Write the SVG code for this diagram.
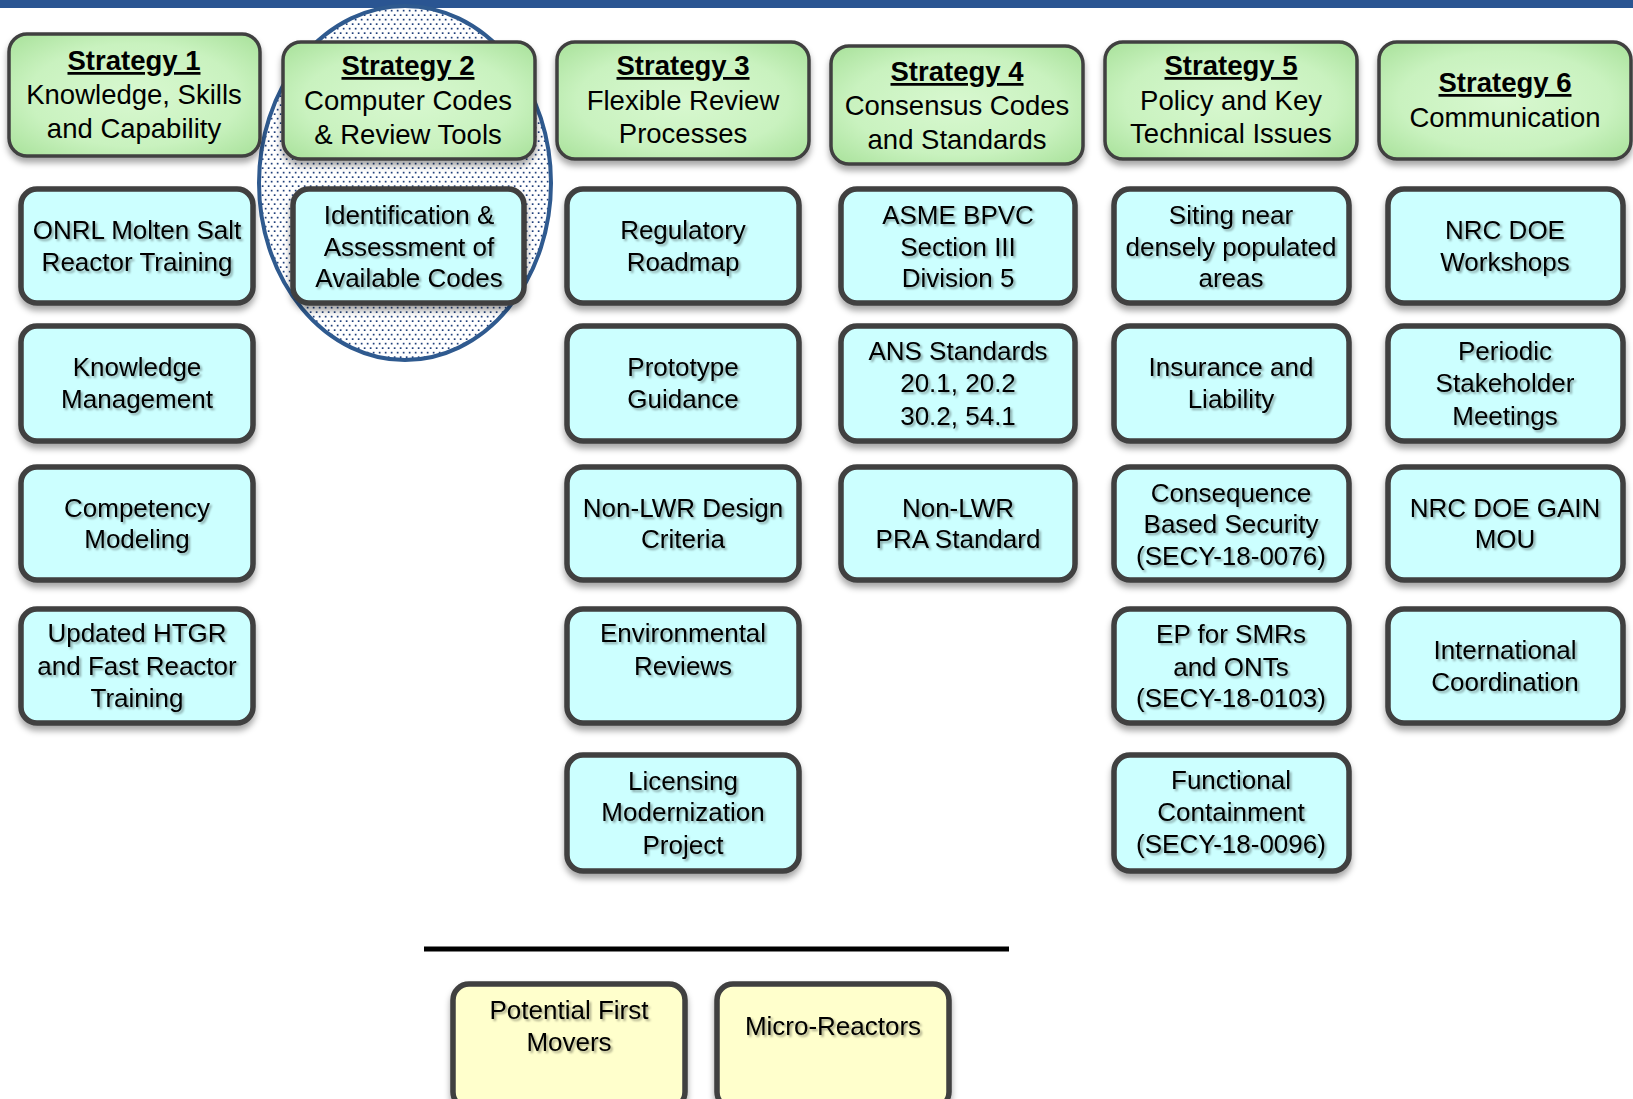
<svg xmlns="http://www.w3.org/2000/svg" width="1633" height="1099" viewBox="0 0 1633 1099">
<defs>
  <radialGradient id="gGreen" cx="50%" cy="50%" r="70%">
    <stop offset="0" stop-color="#d8f8d0"/>
    <stop offset="0.6" stop-color="#c9f2bf"/>
    <stop offset="1" stop-color="#a8e19a"/>
  </radialGradient>
  <pattern id="dots" width="6" height="9" patternUnits="userSpaceOnUse">
    <rect width="6" height="9" fill="#ffffff"/>
    <rect x="0.8" y="0.8" width="1.7" height="1.7" fill="#1f3f7a"/>
    <rect x="3.8" y="5.3" width="1.7" height="1.7" fill="#1f3f7a"/>
  </pattern>
  <filter id="boxShadow" x="-10%" y="-10%" width="120%" height="130%">
    <feDropShadow dx="0" dy="5" stdDeviation="3" flood-color="#000" flood-opacity="0.35"/>
  </filter>
  <filter id="txtShadow" x="-5%" y="-20%" width="110%" height="140%">
    <feDropShadow dx="2" dy="2" stdDeviation="1.2" flood-color="#000" flood-opacity="0.35"/>
  </filter>
</defs>
<style>
  .green { fill: url(#gGreen); stroke: #404040; stroke-width: 3.5; filter: url(#boxShadow); }
  .cyan { fill: #ccffff; stroke: #3f3f3f; stroke-width: 5.5; filter: url(#boxShadow); }
  .yellow { fill: #ffffcc; stroke: #3f3f3f; stroke-width: 5.5; filter: url(#boxShadow); }
  text { font-family: "Liberation Sans", Arial, sans-serif; font-size: 26px; fill: #000; text-anchor: middle; }
  .g text { font-size: 27.5px; }
  .t { filter: url(#txtShadow); }
  .h { font-weight: bold; text-decoration: underline; }
</style>
<rect x="0" y="0" width="1633" height="1099" fill="#ffffff"/>
<rect x="0" y="0" width="1633" height="8" fill="#2a5592"/>

<g id="highlight">
  <ellipse cx="405" cy="183" rx="146" ry="177" fill="url(#dots)" stroke="#2f5a8f" stroke-width="4"/>
</g>

<g id="connectors">
  <line x1="424" y1="949" x2="1009" y2="949" stroke="#000" stroke-width="5"/>
</g>

<!-- Strategy headers -->
<g id="strategy1" class="g">
  <rect class="green" x="9" y="34" width="251" height="122" rx="18"/>
  <text class="h" x="134" y="70">Strategy 1</text>
  <text x="134" y="104">Knowledge, Skills</text>
  <text x="134" y="138">and Capability</text>
</g>
<g id="strategy2" class="g">
  <rect class="green" x="283" y="42" width="252" height="117" rx="18"/>
  <text class="h" x="408" y="75">Strategy 2</text>
  <text x="408" y="110">Computer Codes</text>
  <text x="408" y="144">&amp;  Review Tools</text>
</g>
<g id="strategy3" class="g">
  <rect class="green" x="557" y="42" width="252" height="117" rx="18"/>
  <text class="h" x="683" y="75">Strategy 3</text>
  <text x="683" y="110">Flexible Review</text>
  <text x="683" y="143">Processes</text>
</g>
<g id="strategy4" class="g">
  <rect class="green" x="831" y="46" width="252" height="118" rx="18"/>
  <text class="h" x="957" y="81">Strategy 4</text>
  <text x="957" y="115">Consensus Codes</text>
  <text x="957" y="149">and Standards</text>
</g>
<g id="strategy5" class="g">
  <rect class="green" x="1105" y="42" width="252" height="117" rx="18"/>
  <text class="h" x="1231" y="75">Strategy 5</text>
  <text x="1231" y="110">Policy and Key</text>
  <text x="1231" y="143">Technical Issues</text>
</g>
<g id="strategy6" class="g">
  <rect class="green" x="1379" y="42" width="252" height="117" rx="18"/>
  <text class="h" x="1505" y="92">Strategy 6</text>
  <text x="1505" y="127">Communication</text>
</g>

<!-- Column 1 -->
<g id="onrl-msr-training">
  <rect class="cyan" x="21" y="189" width="232" height="114" rx="16"/>
  <g class="t"><text x="137" y="239">ONRL  Molten Salt</text><text x="137" y="271">Reactor  Training</text></g>
</g>
<g id="knowledge-management">
  <rect class="cyan" x="21" y="326" width="232" height="115" rx="16"/>
  <g class="t"><text x="137" y="376">Knowledge</text><text x="137" y="408">Management</text></g>
</g>
<g id="competency-modeling">
  <rect class="cyan" x="21" y="467" width="232" height="113" rx="16"/>
  <g class="t"><text x="137" y="517">Competency</text><text x="137" y="548">Modeling</text></g>
</g>
<g id="htgr-fast-training">
  <rect class="cyan" x="21" y="609" width="232" height="114" rx="16"/>
  <g class="t"><text x="137" y="642">Updated  HTGR</text><text x="137" y="675">and  Fast Reactor</text><text x="137" y="707">Training</text></g>
</g>

<!-- Column 2 -->
<g id="code-assessment">
  <rect class="cyan" x="293" y="189" width="231" height="114" rx="16"/>
  <g class="t"><text x="409" y="224">Identification  &amp;</text><text x="409" y="256">Assessment of</text><text x="409" y="287">Available  Codes</text></g>
</g>

<!-- Column 3 -->
<g id="regulatory-roadmap">
  <rect class="cyan" x="567" y="189" width="232" height="114" rx="16"/>
  <g class="t"><text x="683" y="239">Regulatory</text><text x="683" y="271">Roadmap</text></g>
</g>
<g id="prototype-guidance">
  <rect class="cyan" x="567" y="326" width="232" height="115" rx="16"/>
  <g class="t"><text x="683" y="376">Prototype</text><text x="683" y="408">Guidance</text></g>
</g>
<g id="nonlwr-design-criteria">
  <rect class="cyan" x="567" y="467" width="232" height="113" rx="16"/>
  <g class="t"><text x="683" y="517">Non-LWR  Design</text><text x="683" y="548">Criteria</text></g>
</g>
<g id="environmental-reviews">
  <rect class="cyan" x="567" y="609" width="232" height="114" rx="16"/>
  <g class="t"><text x="683" y="642">Environmental</text><text x="683" y="675">Reviews</text></g>
</g>
<g id="licensing-modernization">
  <rect class="cyan" x="567" y="755" width="232" height="116" rx="16"/>
  <g class="t"><text x="683" y="790">Licensing</text><text x="683" y="821">Modernization</text><text x="683" y="854">Project</text></g>
</g>

<!-- Column 4 -->
<g id="asme-bpvc">
  <rect class="cyan" x="841" y="189" width="234" height="114" rx="16"/>
  <g class="t"><text x="958" y="224">ASME BPVC</text><text x="958" y="256">Section III</text><text x="958" y="287">Division  5</text></g>
</g>
<g id="ans-standards">
  <rect class="cyan" x="841" y="326" width="234" height="115" rx="16"/>
  <g class="t"><text x="958" y="360">ANS  Standards</text><text x="958" y="392">20.1, 20.2</text><text x="958" y="425">30.2, 54.1</text></g>
</g>
<g id="nonlwr-pra">
  <rect class="cyan" x="841" y="467" width="234" height="113" rx="16"/>
  <g class="t"><text x="958" y="517">Non-LWR</text><text x="958" y="548">PRA Standard</text></g>
</g>

<!-- Column 5 -->
<g id="siting">
  <rect class="cyan" x="1114" y="189" width="235" height="114" rx="16"/>
  <g class="t"><text x="1231" y="224">Siting near</text><text x="1231" y="256">densely populated</text><text x="1231" y="287">areas</text></g>
</g>
<g id="insurance-liability">
  <rect class="cyan" x="1114" y="326" width="235" height="115" rx="16"/>
  <g class="t"><text x="1231" y="376">Insurance  and</text><text x="1231" y="408">Liability</text></g>
</g>
<g id="consequence-security">
  <rect class="cyan" x="1114" y="467" width="235" height="113" rx="16"/>
  <g class="t"><text x="1231" y="502">Consequence</text><text x="1231" y="533">Based Security</text><text x="1231" y="565">(SECY-18-0076)</text></g>
</g>
<g id="ep-smrs">
  <rect class="cyan" x="1114" y="609" width="235" height="114" rx="16"/>
  <g class="t"><text x="1231" y="643">EP for SMRs</text><text x="1231" y="676">and  ONTs</text><text x="1231" y="707">(SECY-18-0103)</text></g>
</g>
<g id="functional-containment">
  <rect class="cyan" x="1114" y="755" width="235" height="116" rx="16"/>
  <g class="t"><text x="1231" y="789">Functional</text><text x="1231" y="821">Containment</text><text x="1231" y="853">(SECY-18-0096)</text></g>
</g>

<!-- Column 6 -->
<g id="nrc-doe-workshops">
  <rect class="cyan" x="1388" y="189" width="235" height="114" rx="16"/>
  <g class="t"><text x="1505" y="239">NRC  DOE</text><text x="1505" y="271">Workshops</text></g>
</g>
<g id="stakeholder-meetings">
  <rect class="cyan" x="1388" y="326" width="235" height="115" rx="16"/>
  <g class="t"><text x="1505" y="360">Periodic</text><text x="1505" y="392">Stakeholder</text><text x="1505" y="425">Meetings</text></g>
</g>
<g id="gain-mou">
  <rect class="cyan" x="1388" y="467" width="235" height="113" rx="16"/>
  <g class="t"><text x="1505" y="517">NRC  DOE GAIN</text><text x="1505" y="548">MOU</text></g>
</g>
<g id="international-coordination">
  <rect class="cyan" x="1388" y="609" width="235" height="114" rx="16"/>
  <g class="t"><text x="1505" y="659">International</text><text x="1505" y="691">Coordination</text></g>
</g>

<!-- Bottom -->
<g id="first-movers">
  <rect class="yellow" x="453" y="984" width="232" height="124" rx="16"/>
  <g class="t"><text x="569" y="1019">Potential First</text><text x="569" y="1051">Movers</text></g>
</g>
<g id="micro-reactors">
  <rect class="yellow" x="717" y="984" width="232" height="124" rx="16"/>
  <g class="t"><text x="833" y="1035">Micro-Reactors</text></g>
</g>
</svg>
